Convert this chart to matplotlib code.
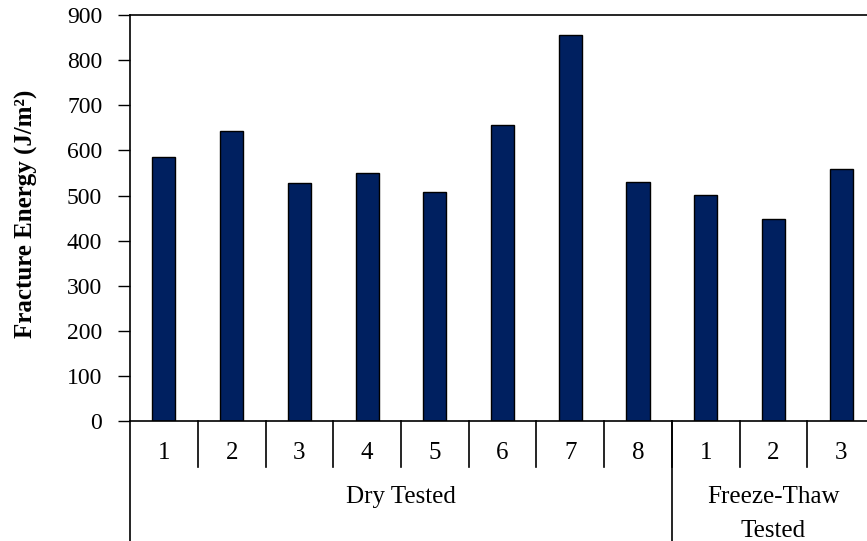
import matplotlib
matplotlib.use("Agg")
import matplotlib.pyplot as plt

# sample numbers along the x axis and their test groups
labels = ["1", "2", "3", "4", "5", "6", "7", "8", "1", "2", "3"]
energy = [586, 644, 528, 551, 508, 656, 856, 531, 501, 448, 559]
groups = ["Dry Tested", "Freeze-Thaw\nTested"]
group_sizes = [8, 3]

plt.rcParams["font.family"] = ["Liberation Serif", "DejaVu Serif"]

fig = plt.figure(figsize=(8.67, 5.41), dpi=100)
ax = fig.add_axes([0.15, 0.2209, 0.8593, 0.7514])

x = range(len(energy))
ax.bar(x, energy, width=0.34, color="#002060", edgecolor="black", linewidth=1.0)

ax.set_xlim(-0.5, len(energy) - 0.5)
ax.set_ylim(0, 900)
ax.set_yticks(range(0, 901, 100))
ax.tick_params(axis="y", direction="out", length=9, width=1, labelsize=17, pad=11)
ax.tick_params(axis="x", bottom=False, labelbottom=False)
for s in ax.spines.values():
    s.set_linewidth(1.2)
fig.text(26 / 867, 0.605, "Fracture Energy (J/m²)", rotation=90, ha="center",
         va="center", fontsize=18, fontweight="bold")

# category labels and separators below the axis
tr = ax.get_xaxis_transform()
for i, lab in enumerate(labels):
    ax.text(i, -0.078, lab, transform=tr, ha="center", va="center", fontsize=18)
for k in range(len(labels) - 1):
    ax.plot([k + 0.5, k + 0.5], [0, -0.111], transform=tr, color="black",
            lw=1.2, clip_on=False)

start = -0.5
for name, n in zip(groups, group_sizes):
    ax.plot([start, start], [0, -0.295], transform=tr, color="black",
            lw=1.2, clip_on=False)
    ax.text(start + n / 2, -0.158, name, transform=tr, ha="center", va="top",
            fontsize=18, linespacing=1.75)
    start += n

fig.savefig("out.png", dpi=100)
